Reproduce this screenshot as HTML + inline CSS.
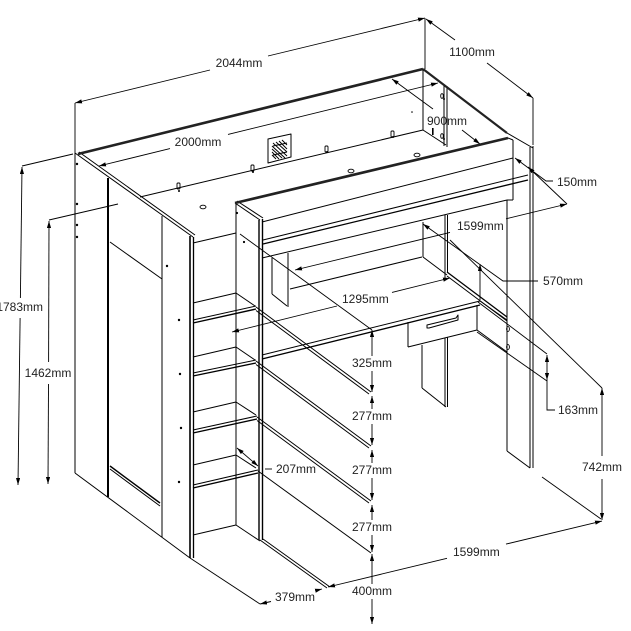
<!DOCTYPE html>
<html><head><meta charset="utf-8"><style>
html,body{margin:0;padding:0;background:#fff;}
svg{display:block;}
text{font-family:"Liberation Sans",Arial,sans-serif;font-size:12px;fill:#222;stroke:none;}
</style></head><body>
<svg width="631" height="631" viewBox="0 0 631 631" xmlns="http://www.w3.org/2000/svg">
<defs>
<marker id="ae" viewBox="0 0 10 6" refX="10" refY="3" markerWidth="7" markerHeight="4.2" markerUnits="userSpaceOnUse" orient="auto"><path d="M0,0L10,3L0,6z" fill="#000" stroke="none"/></marker>
<marker id="as" viewBox="0 0 10 6" refX="10" refY="3" markerWidth="7" markerHeight="4.2" markerUnits="userSpaceOnUse" orient="auto-start-reverse"><path d="M0,0L10,3L0,6z" fill="#000" stroke="none"/></marker>
</defs>
<rect width="631" height="631" fill="#fff"/>

<!-- ===== Dimension lines ===== -->
<g stroke="#000" stroke-width="0.9" fill="none">
<!-- 2044 -->
<path d="M75,103 L210,70" marker-start="url(#as)"/>
<path d="M268,56 L425,18" marker-end="url(#ae)"/>
<line x1="75" y1="103" x2="75" y2="153"/>
<line x1="425" y1="18" x2="425" y2="69"/>
<!-- 1100 -->
<path d="M426,19 L455,40" marker-start="url(#as)"/>
<path d="M487,63 L533,98" marker-end="url(#ae)"/>
<line x1="533" y1="98" x2="533" y2="145"/>
<!-- 2000 -->
<path d="M99,166 L170,148.6" marker-start="url(#as)"/>
<path d="M228,134.4 L438,83" marker-end="url(#ae)"/>
<!-- 900 -->
<path d="M392,79 L433,109" marker-start="url(#as)"/>
<path d="M462,130 L480,144" marker-end="url(#ae)"/>
<!-- 1783 -->
<path d="M22,167 L20.4,298" marker-start="url(#as)"/>
<path d="M20.1,318 L18,485" marker-end="url(#ae)"/>
<line x1="22" y1="166" x2="73" y2="154"/>
<!-- 1462 -->
<path d="M49,221 L48.6,362" marker-start="url(#as)"/>
<path d="M48.5,384 L48,484" marker-end="url(#ae)"/>
<line x1="49" y1="220" x2="118" y2="204"/>
<!-- 150 -->
<path d="M515,158 L546,181 L553,181" marker-start="url(#as)"/>
<path d="M528,167 L567,204" marker-start="url(#as)"/>
<!-- 1599 top -->
<path d="M295,270 L450,232.4" marker-start="url(#as)"/>
<path d="M506,218.8 L567,204" marker-end="url(#ae)"/>
<!-- 570 -->
<path d="M423,224 L503,281 L538,281" marker-start="url(#as)"/>
<path d="M480,264 L480,300" marker-start="url(#as)"/>
<!-- 1295 -->
<path d="M232,332 L337,306" marker-start="url(#as)"/>
<path d="M392,292.4 L450,278" marker-end="url(#ae)"/>
<!-- 163 -->
<path d="M547,355 L547,380" marker-start="url(#as)" marker-end="url(#ae)"/>
<path d="M547,380 L547,410 L555,410"/>
<line x1="478" y1="302" x2="547" y2="354"/>
<line x1="477" y1="332" x2="547" y2="381"/>
<!-- 742 -->
<path d="M602,388 L602,456" marker-start="url(#as)"/>
<path d="M602,479 L602,520" marker-end="url(#ae)"/>
<line x1="450" y1="240" x2="602" y2="388"/>
<line x1="542" y1="477" x2="601" y2="519"/>
<!-- 1599 bottom -->
<path d="M328,587 L447,558.3" marker-start="url(#as)"/>
<path d="M506,544.1 L602,521" marker-end="url(#ae)"/>
<!-- vertical chain -->
<path d="M372,330 L372,356" marker-start="url(#as)"/>
<path d="M372,371 L372,392" marker-end="url(#ae)"/>
<path d="M372,396 L372,409" marker-start="url(#as)"/>
<path d="M372,424 L372,445" marker-end="url(#ae)"/>
<path d="M372,450 L372,463" marker-start="url(#as)"/>
<path d="M372,478 L372,500" marker-end="url(#ae)"/>
<path d="M372,505 L372,520" marker-start="url(#as)"/>
<path d="M372,535 L372,552" marker-end="url(#ae)"/>
<path d="M372,554 L372,584" marker-start="url(#as)"/>
<path d="M372,599 L372,624" marker-end="url(#ae)"/>
<!-- 207 -->
<path d="M237,448 L258,466" marker-start="url(#as)" marker-end="url(#ae)"/>
<line x1="265" y1="469" x2="272" y2="469"/>
<!-- 379 -->
<path d="M260,604 L271,601.5" marker-start="url(#as)"/>
<path d="M317,590.3 L322,589" marker-end="url(#ae)"/>
<line x1="190" y1="558" x2="260" y2="604"/>
<!-- 325 top extension -->
<line x1="240" y1="234" x2="372" y2="330"/>
</g>

<!-- ===== Structure ===== -->
<g stroke="#000" stroke-width="1" fill="none" stroke-linejoin="round">
<!-- left unit -->
<line x1="75" y1="153" x2="75" y2="473"/>
<line x1="75" y1="473" x2="190" y2="558"/>
<line x1="75" y1="153" x2="193" y2="237"/>
<line x1="79" y1="152" x2="195" y2="235"/>
<line x1="108" y1="178" x2="108" y2="497" stroke-width="2"/>
<line x1="162" y1="216" x2="162" y2="537"/>
<line x1="190" y1="236" x2="190" y2="558" stroke-width="1.6"/>
<line x1="193.5" y1="237" x2="193.5" y2="558" stroke-width="1.3"/>
<line x1="110" y1="242" x2="162" y2="279"/>
<line x1="110" y1="466" x2="160" y2="503" stroke-width="1.4"/>
<line x1="110" y1="469" x2="160" y2="506"/>

<!-- shelf unit -->
<line x1="193" y1="243" x2="236" y2="233"/>
<line x1="236" y1="203" x2="236" y2="525"/>
<line x1="193" y1="303" x2="236" y2="293"/><line x1="236" y1="293" x2="255" y2="306"/>
<line x1="193" y1="320" x2="256" y2="306"/><line x1="193" y1="323" x2="256" y2="309" stroke-width="1.4"/>
<line x1="193" y1="357" x2="236" y2="347"/><line x1="236" y1="347" x2="255" y2="360"/>
<line x1="193" y1="373" x2="256" y2="360"/><line x1="193" y1="376" x2="256" y2="363" stroke-width="1.4"/>
<line x1="193" y1="412" x2="236" y2="402"/><line x1="236" y1="402" x2="256" y2="415"/>
<line x1="193" y1="430" x2="257" y2="416"/><line x1="193" y1="433" x2="257" y2="419" stroke-width="1.4"/>
<line x1="193" y1="465" x2="236" y2="455"/><line x1="236" y1="455" x2="256" y2="468"/>
<line x1="193" y1="485" x2="258" y2="470"/><line x1="193" y1="488" x2="258" y2="473" stroke-width="1.4"/>
<line x1="193" y1="535" x2="236" y2="525"/><line x1="236" y1="525" x2="260" y2="541"/>

<!-- middle panel -->
<line x1="235" y1="203" x2="260" y2="220"/>
<line x1="237" y1="201" x2="263" y2="218"/>
<line x1="259" y1="220" x2="259" y2="540" stroke-width="1.4"/>
<line x1="262.5" y1="219" x2="262.5" y2="540" stroke-width="1.4"/>
<line x1="260" y1="540" x2="327" y2="588"/>
<line x1="263" y1="539" x2="330" y2="587"/>

<!-- shelf extension double lines -->
<line x1="256" y1="307" x2="371" y2="392"/><line x1="256" y1="310.5" x2="369" y2="394"/>
<line x1="256" y1="361" x2="371" y2="446"/><line x1="256" y1="364.5" x2="369" y2="448"/>
<line x1="257" y1="417" x2="371" y2="501"/><line x1="257" y1="420.5" x2="369" y2="503"/>
<line x1="258" y1="471" x2="371" y2="553"/>

<!-- bed top back rail -->
<line x1="78" y1="154" x2="423" y2="69" stroke-width="2.6" stroke="#222"/>
<line x1="140" y1="197" x2="423" y2="130"/>
<line x1="423" y1="69" x2="423" y2="130"/>
<line x1="423" y1="130" x2="446" y2="145"/>
<line x1="444" y1="85" x2="444" y2="146"/>
<line x1="447" y1="86" x2="447" y2="147"/>
<line x1="423" y1="69" x2="507" y2="133" stroke-width="2.2" stroke="#222"/>
<line x1="507" y1="133" x2="533" y2="148"/>
<line x1="530" y1="147" x2="530" y2="468"/>
<line x1="533" y1="146" x2="533" y2="468"/>

<!-- front rail -->
<line x1="235" y1="203" x2="508" y2="138" stroke-width="2.6" stroke="#222"/>
<line x1="508" y1="138" x2="513" y2="140"/>
<line x1="513" y1="140" x2="513" y2="200"/>
<line x1="262" y1="222" x2="513" y2="158"/>
<line x1="263" y1="240" x2="528" y2="175"/>
<line x1="263" y1="244" x2="528" y2="180" stroke-width="1.3"/>
<line x1="262" y1="258" x2="507" y2="200"/>
<line x1="507" y1="200" x2="513" y2="200"/>
<line x1="507" y1="200" x2="507" y2="451"/>
<line x1="507" y1="451" x2="530" y2="468"/>

<!-- hutch -->
<line x1="272" y1="258" x2="272" y2="294"/>
<line x1="288" y1="253" x2="288" y2="307"/>
<line x1="272" y1="294" x2="287" y2="306"/>
<line x1="290" y1="289" x2="422" y2="257"/>
<line x1="423" y1="222" x2="423" y2="257"/>
<line x1="445" y1="215" x2="445" y2="280"/>
<line x1="447.5" y1="215" x2="447.5" y2="272"/>
<line x1="423" y1="257" x2="447" y2="275"/>
<line x1="447" y1="272" x2="507" y2="317" stroke-width="1.3"/>
<line x1="447" y1="276" x2="507" y2="321"/>

<!-- desk -->
<line x1="262" y1="355" x2="480" y2="301"/>
<line x1="262" y1="359" x2="480" y2="305" stroke-width="1.3"/>
<line x1="480" y1="301" x2="507" y2="320"/>
<line x1="408" y1="322" x2="408" y2="347"/>
<line x1="408" y1="347" x2="477" y2="330"/>
<line x1="477" y1="305" x2="477" y2="330"/>
<line x1="477" y1="330" x2="507" y2="352"/>
<path d="M427,325 L456,318 L458,315 L458,320 L429,328 L427,328 Z"/>
<line x1="422" y1="345" x2="422" y2="388"/>
<line x1="445" y1="338" x2="445" y2="407"/>
<line x1="447.5" y1="337" x2="447.5" y2="407"/>
<line x1="422" y1="388" x2="446" y2="407"/>

<!-- grille -->
<polygon points="268,139 291,134 291,157 268,163"/>
<line x1="273" y1="143" x2="287" y2="156"/>
<line x1="272" y1="146" x2="285" y2="158"/>
<line x1="272" y1="149" x2="282" y2="158"/>
<line x1="272" y1="152" x2="279" y2="159"/>
<line x1="276" y1="142" x2="287" y2="152"/>
<line x1="279" y1="141" x2="287" y2="149"/>
<line x1="282" y1="140" x2="287" y2="145"/>
<line x1="272" y1="155" x2="276" y2="159"/>
<line x1="273" y1="146" x2="287" y2="143"/>
<line x1="273" y1="155" x2="287" y2="152"/>
</g>

<!-- bolts, holes, dots -->
<g fill="#000" stroke="none">
<circle cx="77" cy="164" r="1.2"/><circle cx="77" cy="204" r="1.2"/><circle cx="77" cy="225" r="1.2"/><circle cx="77" cy="237" r="1.2"/>
<circle cx="167" cy="266" r="1.2"/><circle cx="179" cy="320" r="1.2"/><circle cx="180" cy="374" r="1.2"/><circle cx="181" cy="428" r="1.2"/><circle cx="179" cy="482" r="1.2"/>
<circle cx="237" cy="213" r="1.1"/><circle cx="244" cy="242" r="1.1"/>
<circle cx="412" cy="112" r="0.8"/>
<circle cx="179" cy="191" r="1"/><circle cx="253" cy="172" r="1"/><circle cx="327" cy="152" r="1"/><circle cx="393" cy="137" r="1"/>
<circle cx="444" cy="99" r="1"/><circle cx="444" cy="139" r="1"/>
<rect x="432" y="128" width="1.6" height="7"/>
</g>
<g fill="none" stroke="#000" stroke-width="0.9">
<rect x="177" y="183" width="3" height="6" rx="1"/>
<rect x="251" y="165" width="3" height="6" rx="1"/>
<rect x="325" y="146" width="3" height="6" rx="1"/>
<rect x="391" y="131" width="3" height="6" rx="1"/>
<ellipse cx="203" cy="207" rx="3" ry="1.8"/>
<ellipse cx="351" cy="171" rx="3" ry="1.8"/>
<ellipse cx="417" cy="155" rx="3" ry="1.8"/>
<ellipse cx="442" cy="96" rx="1.3" ry="2.3"/>
<ellipse cx="442" cy="136" rx="1.3" ry="2.3"/>
<ellipse cx="508" cy="329" rx="1.4" ry="2.4"/>
<ellipse cx="508" cy="347" rx="1.4" ry="2.4"/>
</g>

<!-- labels -->
<text x="239" y="67" text-anchor="middle">2044mm</text>
<text x="472" y="56" text-anchor="middle">1100mm</text>
<text x="198" y="146" text-anchor="middle">2000mm</text>
<text x="447" y="125" text-anchor="middle">900mm</text>
<text x="557" y="186">150mm</text>
<text x="457" y="230">1599mm</text>
<text x="543" y="285">570mm</text>
<text x="342" y="303">1295mm</text>
<text x="43" y="311" text-anchor="end">1783mm</text>
<text x="48" y="377" text-anchor="middle">1462mm</text>
<text x="372" y="367" text-anchor="middle">325mm</text>
<text x="372" y="420" text-anchor="middle">277mm</text>
<text x="372" y="474" text-anchor="middle">277mm</text>
<text x="372" y="531" text-anchor="middle">277mm</text>
<text x="372" y="595" text-anchor="middle">400mm</text>
<text x="558" y="414">163mm</text>
<text x="582" y="471">742mm</text>
<text x="453" y="556">1599mm</text>
<text x="276" y="473">207mm</text>
<text x="275" y="601">379mm</text>
</svg>
</body></html>
